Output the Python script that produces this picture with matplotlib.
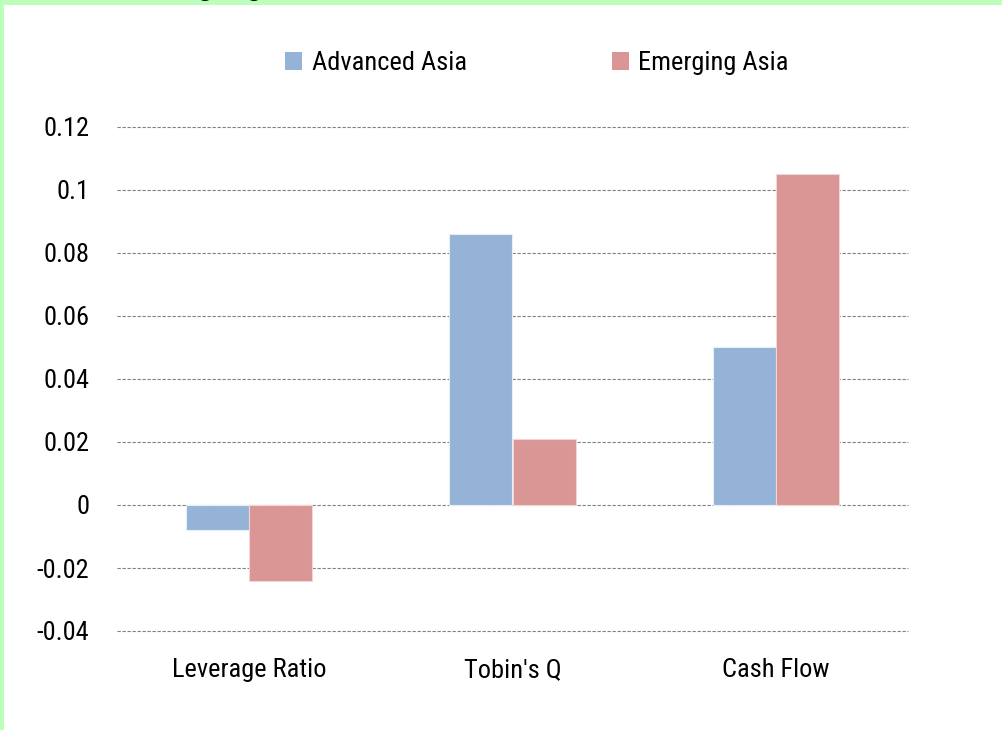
import matplotlib
matplotlib.use("Agg")
import matplotlib.pyplot as plt
import numpy as np
from matplotlib import font_manager as fm
from matplotlib.patches import Rectangle, Patch

avail = {f.name for f in fm.fontManager.ttflist}
prefs = ['Liberation Sans Narrow', 'Arial Narrow', 'Roboto Condensed', 'PT Sans Narrow',
         'Archivo Narrow', 'Sofia Sans Condensed', 'Saira SemiCondensed']
chosen = [p for p in prefs if p in avail][:1]
plt.rcParams['font.family'] = chosen + ['DejaVu Sans']

categories = ["Leverage Ratio", "Tobin's Q", "Cash Flow"]
series_names = ["Advanced Asia", "Emerging Asia"]
advanced = [-0.008, 0.086, 0.050]
emerging = [-0.024, 0.021, 0.105]
yticks = [-0.04, -0.02, 0, 0.02, 0.04, 0.06, 0.08, 0.1, 0.12]
ytick_labels = ["-0.04", "-0.02", "0", "0.02", "0.04", "0.06", "0.08", "0.1", "0.12"]
title_word = "Emerging"

c_adv = "#95B3D7"
c_em = "#D99694"
FS = 19

fig = plt.figure(figsize=(10.03, 7.30), dpi=100)
fig.patch.set_facecolor("white")
W, H = 1003, 730
fig.patches.append(Rectangle((0, 1 - 5/H), 1, 5/H, transform=fig.transFigure,
                             facecolor="#BBFFBB", edgecolor="none", zorder=0))
fig.patches.append(Rectangle((0, 0), 4/W, 1, transform=fig.transFigure,
                             facecolor="#BBFFBB", edgecolor="none", zorder=0))

ax = fig.add_axes([117/W, (H-631)/H, (908-117)/W, (631-127)/H])
x = np.arange(len(categories))
w = 0.24
ax.bar(x - w/2, advanced, w, color=c_adv, edgecolor="#E6EEF7", linewidth=0.8, zorder=3)
ax.bar(x + w/2, emerging, w, color=c_em, edgecolor="#F2D5D4", linewidth=0.8, zorder=3)
ax.set_xlim(-0.5, 2.5)
ax.set_ylim(-0.04, 0.12)
ax.set_yticks(yticks)
ax.set_yticklabels(ytick_labels)
ax.set_xticks(x)
ax.set_xticklabels(categories)
ax.tick_params(axis="both", length=0, labelsize=FS, colors="black")
ax.tick_params(axis="y", pad=20)
ax.tick_params(axis="x", pad=19.5)
ax.grid(axis="y", color="#808080", linestyle=(0, (3, 1.5)), linewidth=0.8, zorder=0)
for gl in ax.get_ygridlines():
    gl.set_clip_on(False)
for s in ax.spines.values():
    s.set_visible(False)

handles = [Patch(facecolor=c_adv, edgecolor="none"), Patch(facecolor=c_em, edgecolor="none")]
fig.legend(handles, series_names, loc="center", bbox_to_anchor=(537/W, 1 - 63/H),
           ncol=2, frameon=False, fontsize=FS, handlelength=0.65, handleheight=0.65,
           handletextpad=0.35, columnspacing=5.5)

# partially cut-off title above the top edge (only descender tips visible)
renderer = fig.canvas.get_renderer()
def tw(s, size):
    t = fig.text(0, 0, s, fontsize=size)
    wpx = t.get_window_extent(renderer).width
    t.remove()
    return wpx
base = 30
d = tw(title_word[:7], base) - tw(title_word[:4], base)
tsize = base * 49 / d
g_w = tw(title_word[:5], tsize) - tw(title_word[:4], tsize)
x0 = 206 - (tw(title_word[:4], tsize) + g_w / 2)
fig.text(x0 / W, 1 - 1.0 / H, title_word, fontsize=tsize,
         ha="left", va="bottom", color="black")

fig.savefig("out.png", dpi=100, facecolor="white")
